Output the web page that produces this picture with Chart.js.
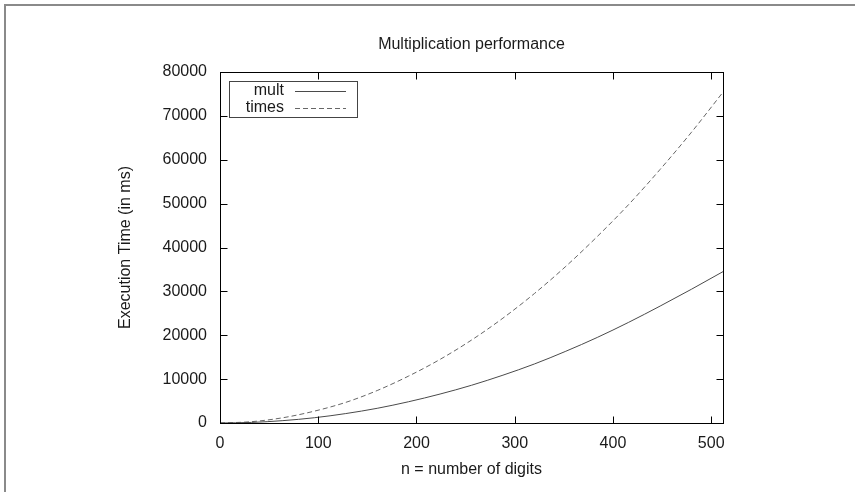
<!DOCTYPE html>
<html>
<head>
<meta charset="utf-8">
<title>Multiplication performance</title>
<style>
  html, body { margin: 0; padding: 0; background: #fff; }
  #wrap { position: relative; width: 855px; height: 492px; }
</style>
</head>
<body>
<div id="wrap"><canvas id="myChart" width="855" height="492"></canvas></div>
<script src="https://cdn.jsdelivr.net/npm/chart.js@4/dist/chart.umd.min.js"></script>
<script>
// values
var digits = [0, 32, 64, 96, 128, 160, 192, 224, 256, 288, 320, 352, 384, 416, 448, 480, 512];
var multTimes = [0, 130, 540, 1200, 2150, 3350, 4850, 6600, 8600, 10900, 13450, 16350, 19500, 22950, 26650, 30500, 34500];
var timesTimes = [0, 300, 1200, 2700, 4700, 7400, 10700, 14500, 18900, 23900, 29500, 35700, 42500, 49800, 57800, 66300, 75400];
var xTicks = [0, 100, 200, 300, 400, 500];
var yTicks = [0, 10000, 20000, 30000, 40000, 50000, 60000, 70000, 80000];
var chartTitle = 'Multiplication performance';

var FONT = "'Liberation Sans', Arial, Helvetica, sans-serif";
var TEXT = '#1a1a1a';

function pts(ys) {
  return digits.map(function (d, i) { return { x: d, y: ys[i] }; });
}

// frame, inward ticks on all four sides, title, legend and outer border
var framePlugin = {
  id: 'framePlugin',
  afterDraw: function (chart) {
    var ctx = chart.ctx, a = chart.chartArea;
    var xs = chart.scales.x, ys = chart.scales.y;
    var L = Math.round(a.left) + 0.5, R = Math.round(a.right) + 0.5;
    var T = Math.round(a.top) + 0.5, B = Math.round(a.bottom) + 0.5;
    ctx.save();
    // outer grey border
    ctx.strokeStyle = '#8a8a8a';
    ctx.lineWidth = 2;
    ctx.beginPath();
    ctx.moveTo(5, 492); ctx.lineTo(5, 5); ctx.lineTo(855, 5);
    ctx.stroke();

    ctx.strokeStyle = '#000';
    ctx.lineWidth = 1;
    ctx.strokeRect(L, T, R - L, B - T);
    var tl = 7;
    ctx.beginPath();
    xTicks.forEach(function (v) {
      var px = Math.round(xs.getPixelForValue(v)) + 0.5;
      ctx.moveTo(px, B); ctx.lineTo(px, B - tl);
      ctx.moveTo(px, T); ctx.lineTo(px, T + tl);
    });
    yTicks.forEach(function (v) {
      var py = Math.round(ys.getPixelForValue(v)) + 0.5;
      ctx.moveTo(L, py); ctx.lineTo(L + tl, py);
      ctx.moveTo(R, py); ctx.lineTo(R - tl, py);
    });
    ctx.stroke();

    // title, centred over the plot
    ctx.font = '16px ' + FONT;
    ctx.fillStyle = TEXT;
    ctx.textAlign = 'center';
    ctx.textBaseline = 'middle';
    ctx.fillText(chartTitle, (a.left + a.right) / 2, 45);

    // legend
    ctx.fillStyle = '#fff';
    ctx.fillRect(229.5, 81.5, 128, 36);
    ctx.strokeStyle = '#444';
    ctx.strokeRect(229.5, 81.5, 128, 36);
    ctx.textAlign = 'right';
    chart.data.datasets.forEach(function (ds, i) {
      var cy = 91 + i * 17;
      ctx.fillStyle = TEXT;
      ctx.fillText(ds.label, 284, cy);
      ctx.strokeStyle = ds.borderColor;
      ctx.lineWidth = 1;
      ctx.setLineDash(ds.borderDash || []);
      ctx.beginPath();
      ctx.moveTo(295, cy + 0.5); ctx.lineTo(346, cy + 0.5);
      ctx.stroke();
      ctx.setLineDash([]);
    });
    ctx.restore();
  }
};

var ctx = document.getElementById('myChart').getContext('2d');
var chart = new Chart(ctx, {
  type: 'line',
  data: {
    datasets: [{
      label: 'mult',
      data: pts(multTimes),
      borderColor: '#4a4a4a',
      borderWidth: 1,
      pointRadius: 0,
      cubicInterpolationMode: 'monotone',
      fill: false
    }, {
      label: 'times',
      data: pts(timesTimes),
      borderColor: '#666',
      borderWidth: 1,
      borderDash: [5, 3],
      pointRadius: 0,
      cubicInterpolationMode: 'monotone',
      fill: false
    }]
  },
  options: {
    responsive: false,
    animation: false,
    layout: { padding: { left: 0, right: 132, top: 72, bottom: 0 } },
    plugins: {
      legend: { display: false },
      tooltip: { enabled: false },
      title: { display: false }
    },
    scales: {
      x: {
        type: 'linear',
        min: 0,
        max: 512,
        grid: { display: false, drawTicks: false },
        border: { display: false },
        ticks: {
          stepSize: 100,
          includeBounds: false,
          maxRotation: 0,
          padding: 11,
          color: TEXT,
          font: { family: FONT, size: 16 },
          callback: function (v) { return String(v); }
        },
        title: {
          display: true,
          text: 'n = number of digits',
          color: TEXT,
          font: { family: FONT, size: 16 },
          padding: { top: 0, bottom: 13 }
        },
        afterFit: function (s) { s.height = 69; }
      },
      y: {
        min: 0,
        max: 80000,
        grid: { display: false, drawTicks: false },
        border: { display: false },
        ticks: {
          stepSize: 10000,
          padding: 13,
          color: TEXT,
          font: { family: FONT, size: 16 },
          callback: function (v) { return String(v); }
        },
        title: {
          display: true,
          text: 'Execution Time (in ms)',
          color: TEXT,
          font: { family: FONT, size: 16 },
          padding: { top: 116, bottom: 0 }
        },
        afterFit: function (s) { s.width = 220; }
      }
    }
  },
  plugins: [framePlugin]
});
</script>
</body>
</html>
